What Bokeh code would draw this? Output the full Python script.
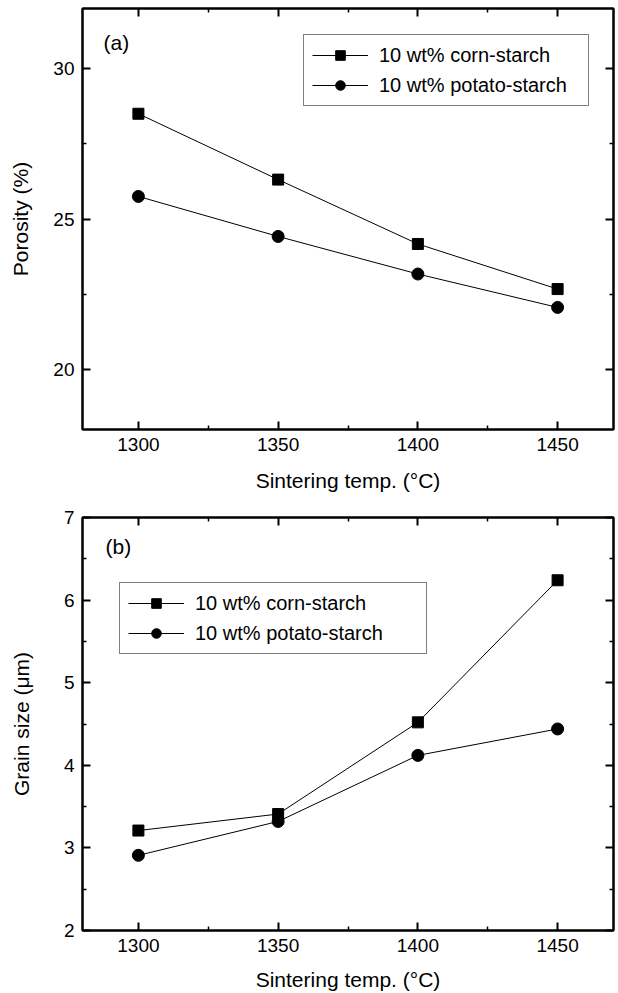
from bokeh.plotting import figure
from bokeh.models import (Range1d, FixedTicker, LinearAxis, Legend, LegendItem,
                          Label, CustomJSTickFormatter)
from bokeh.layouts import column
from bokeh.embed import file_html
from bokeh.resources import INLINE

# ---- data ----
temps = [1300, 1350, 1400, 1450]
porosity_corn = [28.5, 26.31, 24.17, 22.67]
porosity_potato = [25.75, 24.42, 23.17, 22.06]
grain_corn = [3.21, 3.41, 4.52, 6.24]
grain_potato = [2.91, 3.32, 4.12, 4.44]
series_labels = ["10 wt% corn-starch", "10 wt% potato-starch"]

x_major = [1300, 1350, 1400, 1450]
x_minor = [1275, 1325, 1375, 1425, 1475]
por_major = [20, 25, 30]
por_minor = [17.5, 22.5, 27.5, 32.5]
grain_major = [2, 3, 4, 5, 6, 7]
grain_minor = [2.5, 3.5, 4.5, 5.5, 6.5]

FONT = "Liberation Sans"


def style_axis(ax, labels=True):
    ax.axis_line_width = 2
    ax.axis_line_color = "black"
    ax.major_tick_in = 8
    ax.major_tick_out = 0
    ax.minor_tick_in = 4
    ax.minor_tick_out = 0
    ax.major_tick_line_width = 2
    ax.minor_tick_line_width = 1.5
    ax.major_tick_line_color = "black"
    ax.minor_tick_line_color = "black"
    ax.major_label_text_font = FONT
    ax.major_label_text_font_size = "19px"
    ax.major_label_text_color = "black"
    ax.axis_label_text_font = FONT
    ax.axis_label_text_font_size = "21px"
    ax.axis_label_text_font_style = "normal"
    ax.axis_label_text_color = "black"
    if not labels:
        ax.formatter = CustomJSTickFormatter(code="return ''")
        ax.major_label_text_font_size = "0px"
        ax.major_label_standoff = 0


def make_panel(yvals_a, yvals_b, y_start, y_end, y_major, y_minor, ylabel, tag,
               height, top_border, bottom_border, y_label_standoff,
               x_tick_standoff, x_title_standoff, legend_xy, label_width, tag_xy):
    p = figure(width=617, height=height, x_range=Range1d(1280, 1470),
               y_range=Range1d(y_start, y_end), output_backend="svg",
               toolbar_location=None, min_border_left=82, min_border_right=4,
               min_border_top=top_border, min_border_bottom=bottom_border,
               x_axis_label="Sintering temp. (°C)", y_axis_label=ylabel)
    p.grid.visible = False
    p.outline_line_color = "black"
    p.outline_line_width = 2
    p.background_fill_color = "white"
    p.border_fill_color = "white"

    p.xaxis.ticker = FixedTicker(ticks=x_major, minor_ticks=x_minor)
    p.yaxis.ticker = FixedTicker(ticks=y_major, minor_ticks=y_minor)
    for ax in p.xaxis:
        style_axis(ax)
        ax.major_label_standoff = x_tick_standoff
        ax.axis_label_standoff = x_title_standoff
    for ax in p.yaxis:
        style_axis(ax)
        ax.major_label_standoff = 8
        ax.axis_label_standoff = y_label_standoff

    top_ax = LinearAxis(ticker=FixedTicker(ticks=x_major, minor_ticks=x_minor))
    style_axis(top_ax, labels=False)
    p.add_layout(top_ax, "above")
    right_ax = LinearAxis(ticker=FixedTicker(ticks=y_major, minor_ticks=y_minor))
    style_axis(right_ax, labels=False)
    p.add_layout(right_ax, "right")

    l1 = p.line(temps, yvals_a, line_color="black", line_width=1)
    m1 = p.scatter(temps, yvals_a, marker="square", size=11,
                   fill_color="black", line_color="black")
    l2 = p.line(temps, yvals_b, line_color="black", line_width=1)
    m2 = p.scatter(temps, yvals_b, marker="circle", size=12,
                   fill_color="black", line_color="black")

    legend = Legend(items=[LegendItem(label=series_labels[0], renderers=[l1, m1]),
                           LegendItem(label=series_labels[1], renderers=[l2, m2])],
                    location=legend_xy, margin=0, padding=8, spacing=6,
                    glyph_width=56, glyph_height=24, label_height=24,
                    label_width=label_width, label_standoff=11,
                    label_text_font=FONT, label_text_font_size="20px",
                    label_text_color="black", border_line_color="black",
                    border_line_width=1.5, background_fill_color="white",
                    background_fill_alpha=1.0)
    p.add_layout(legend, "center")

    p.add_layout(Label(x=tag_xy[0], y=tag_xy[1], x_units="screen",
                       y_units="screen", text=tag, text_font=FONT,
                       text_font_size="21px", text_baseline="middle",
                       text_color="black"))
    return p


p1 = make_panel(porosity_corn, porosity_potato, 18, 32, por_major, por_minor,
                "Porosity (%)", "(a)", height=507, top_border=8,
                bottom_border=78, y_label_standoff=18, x_tick_standoff=8,
                x_title_standoff=15, legend_xy=(221, 323), label_width=201,
                tag_xy=(21, 387))
p2 = make_panel(grain_corn, grain_potato, 2, 7, grain_major, grain_minor,
                "Grain size (μm)", "(b)", height=486, top_border=10,
                bottom_border=62, y_label_standoff=28, x_tick_standoff=8,
                x_title_standoff=13, legend_xy=(37, 276), label_width=223,
                tag_xy=(23, 384))

layout = column(p1, p2, spacing=0)
open("out.html", "w").write(file_html(layout, INLINE))
